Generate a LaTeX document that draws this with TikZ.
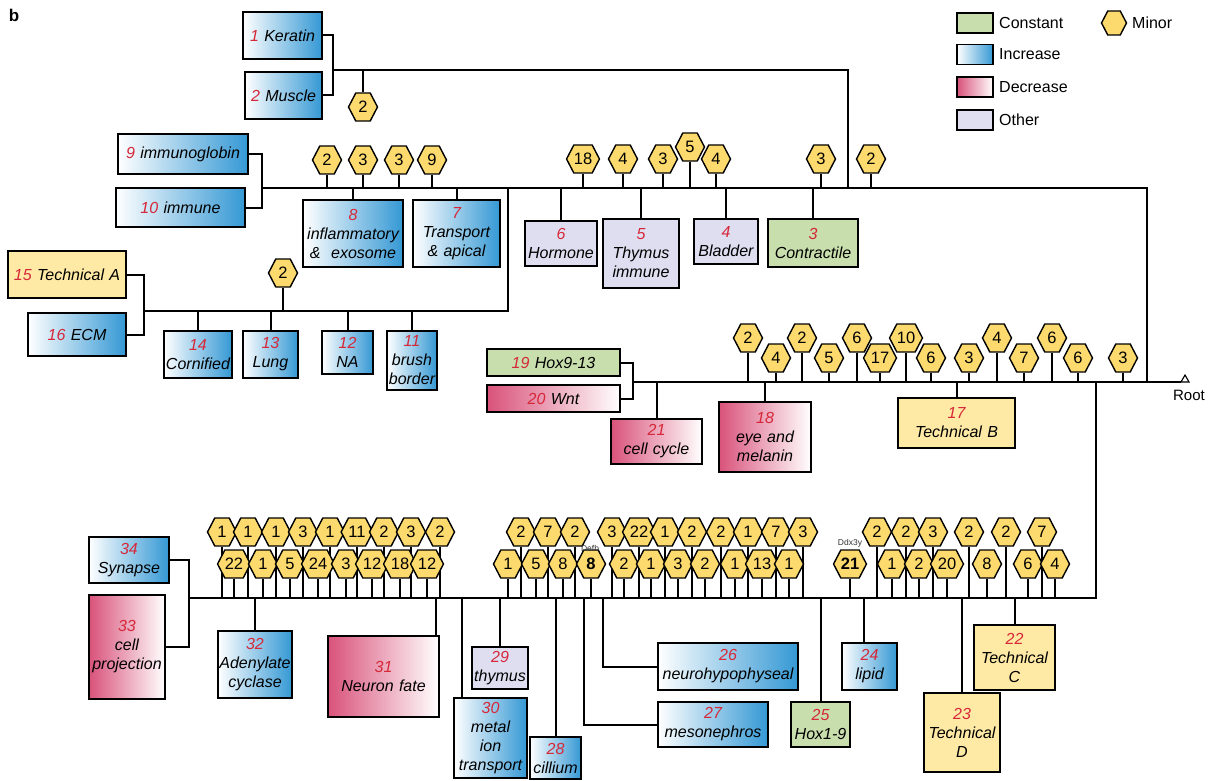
\documentclass[tikz,border=0pt]{standalone}
\usepackage{fontspec}
\setmainfont{Liberation Sans}
\usetikzlibrary{shapes.symbols,backgrounds,calc}
\definecolor{incblue}{RGB}{52,152,212}
\definecolor{decred}{RGB}{217,82,122}
\definecolor{constgreen}{RGB}{200,222,172}
\definecolor{otherpurple}{RGB}{222,222,240}
\definecolor{techyellow}{RGB}{254,233,165}
\definecolor{hexfill}{RGB}{253,218,110}
\definecolor{numred}{RGB}{214,40,57}
\newcommand\nr[1]{\textcolor{numred}{#1}}
\newcommand\mybox[7]{%
  \pgfmathsetmacro\bxw{#5-#3}\pgfmathsetmacro\bxh{#6-#4}%
  \pgfmathsetmacro\bxcx{(#3+#5)/2}\pgfmathsetmacro\bxcy{(#4+#6)/2}%
  \node[box,#2,text width=\bxw pt,minimum height=\bxh pt] (#1) at (\bxcx,\bxcy) {#7};}
\newcommand\hexon[5]{%
  \node[minor] (#1) at (#2,#3) {#4};
  \begin{pgfonlayer}{background}\draw[ln] (#1.south) -- (#1.south |- #5);\end{pgfonlayer}}
\begin{document}
\begin{tikzpicture}[x=1pt,y=-1pt,
  ln/.style={line width=2pt},
  box/.style={draw=black, line width=2.2pt, align=center, inner xsep=0pt, inner ysep=1pt, font=\fontsize{16}{19}\selectfont\itshape},
  inc/.style={left color=white, right color=incblue},
  dec/.style={left color=decred, right color=white},
  cst/.style={fill=constgreen},
  oth/.style={fill=otherpurple},
  tec/.style={fill=techyellow},
  minor/.style={signal, signal to=east and west, signal pointer angle=125, draw=black, line width=1.4pt, fill=hexfill, minimum width=29pt, minimum height=28pt, inner sep=0pt, font=\fontsize{16.5}{16.5}\selectfont},
  legbox/.style={draw=black, line width=1.7pt, minimum width=36pt, minimum height=20pt, inner sep=0pt},
  legtxt/.style={anchor=west, inner sep=0pt, font=\fontsize{16}{16}\selectfont},
  tiny/.style={font=\fontsize{8.5}{9}\selectfont, text=black!80, inner sep=0pt}
]
\useasboundingbox (0,0) rectangle (1208,781);
\node[font=\bfseries\fontsize{17}{17}\selectfont] (lblb) at (14,15) {b};

% ---------- boxes ----------
\mybox{ker}{inc}{243}{12}{322}{59}{\nr{1} Keratin}
\mybox{mus}{inc}{245}{72}{322}{119}{\nr{2} Muscle}
\mybox{img}{inc}{118}{134}{248}{174}{\nr{9} immunoglobin}
\mybox{imm}{inc}{116}{188}{245}{227}{\nr{10} immune}
\mybox{inf}{inc}{303}{200}{403}{267}{\nr{8}\\inflammatory\\\&\ \ exosome}
\mybox{tra}{inc}{413}{200}{500}{267}{\nr{7}\\Transport\\\& apical}
\mybox{hor}{oth}{525}{221}{597}{266}{\nr{6}\\Hormone}
\mybox{thy}{oth}{603}{219}{679}{288}{\nr{5}\\Thymus\\immune}
\mybox{bla}{oth}{694}{219}{758}{264}{\nr{4}\\Bladder}
\mybox{con}{cst}{768}{219}{858}{267}{\nr{3}\\Contractile}
\mybox{tca}{tec}{8}{251}{126}{298}{\nr{15} Technical A}
\mybox{ecm}{inc}{28}{313}{126}{356}{\nr{16} ECM}
\mybox{cor}{inc}{164}{331}{232}{378}{\nr{14}\\Cornified}
\mybox{lun}{inc}{243}{331}{298}{378}{\nr{13}\\Lung}
\mybox{na}{inc}{322}{331}{373}{374}{\nr{12}\\NA}
\mybox{bru}{inc}{387}{331}{437}{390}{\nr{11}\\brush\\border}
\mybox{hox}{cst}{487}{349}{620}{376}{\nr{19} Hox9-13}
\mybox{wnt}{dec}{487}{385}{620}{412}{\nr{20} Wnt}
\mybox{cc}{dec}{611}{419}{702}{464}{\nr{21}\\cell cycle}
\mybox{eye}{dec}{719}{402}{811}{472}{\nr{18}\\eye and\\melanin}
\mybox{tcb}{tec}{898}{398}{1015}{448}{\nr{17}\\Technical B}
\mybox{syn}{inc}{89}{537}{169}{583}{\nr{34}\\Synapse}
\mybox{cp}{dec}{89}{595}{165}{699}{\nr{33}\\cell\\projection}
\mybox{ade}{inc}{218}{631}{292}{698}{\nr{32}\\Adenylate\\cyclase}
\mybox{neu}{dec}{328}{636}{439}{717}{\nr{31}\\Neuron fate}
\mybox{met}{inc}{454}{698}{527}{778}{\nr{30}\\metal\\ion\\transport}
\mybox{thm}{oth}{472}{647}{528}{689}{\nr{29}\\thymus}
\mybox{cil}{inc}{530}{737}{581}{779}{\nr{28}\\cillium}
\mybox{mes}{inc}{658}{702}{768}{747}{\nr{27}\\mesonephros}
\mybox{neh}{inc}{658}{643}{798}{690}{\nr{26}\\neurohypophyseal}
\mybox{hx19}{cst}{791}{702}{850}{747}{\nr{25}\\Hox1-9}
\mybox{lip}{inc}{842}{643}{897}{690}{\nr{24}\\lipid}
\mybox{tcd}{tec}{924}{693}{1000}{772}{\nr{23}\\Technical\\D}
\mybox{tcc}{tec}{974}{625}{1055}{690}{\nr{22}\\Technical\\C}

% ---------- junction coordinates ----------
\coordinate (cKM) at (333,70);
\coordinate (tA) at (848,70);
\coordinate (tAj) at (848,188);
\coordinate (cT) at (262,188);
\coordinate (tR) at (1147,188);
\coordinate (rR) at (1147,382);
\coordinate (cTAr) at (508,188);
\coordinate (cTAb) at (508,311);
\coordinate (cTA) at (144,311);
\coordinate (cR) at (633,382);
\coordinate (rootpt) at (1181,382);
\coordinate (rB) at (1096,382);
\coordinate (bR) at (1096,598);
\coordinate (cB) at (189,598);
\coordinate (bNeu) at (436,598);
\coordinate (bMet) at (462,598);
\coordinate (bMes) at (584,598);
\coordinate (bNeh) at (603,598);
\coordinate (bLip) at (864,598);

% ---------- connectors ----------
\draw[ln] (ker.east) -| (cKM) |- (mus.east);
\draw[ln] (cKM) -- (tA) -- (tAj);
\draw[ln] (img.east) -| (cT) |- (imm.east);
\draw[ln] (cT) -- (tR) -- (rR);
\draw[ln] (cTAr) -- (cTAb) -- (cTA);
\draw[ln] (tca.east) -| (cTA) |- (ecm.east);
\draw[ln] (hox.east) -| (cR) |- (wnt.east);
\draw[ln] (cR) -- (rootpt);
\draw[ln] (rB) -- (bR) -- (cB);
\draw[ln] (syn.east) -| (cB) |- (cp.east);
\foreach \b in {inf,tra,hor,thy,bla,con} \draw[ln] (\b.north) -- (\b.north |- cT);
\foreach \b in {cor,lun,na,bru} \draw[ln] (\b.north) -- (\b.north |- cTA);
\foreach \b in {cc,eye,tcb} \draw[ln] (\b.north) -- (\b.north |- cR);
\foreach \b in {ade,thm,cil,hx19,tcd,tcc} \draw[ln] (\b.north) -- (\b.north |- cB);
\draw[ln] (bNeu) -- (bNeu |- neu.north);
\draw[ln] (bMet) -- (bMet |- met.north);
\draw[ln] (bLip) -- (bLip |- lip.north);
\draw[ln] (bMes) |- (mes.west);
\draw[ln] (bNeh) |- (neh.west);

% root
\draw[line width=1.1pt] (rootpt) -- ++(4,-7) -- ++(4,7) -- cycle;
\node[font=\fontsize{15}{15}\selectfont, inner sep=0pt] (roottxt) at (1189,395) {Root};

% ---------- minor hexagons ----------
\node[minor] (k1) at (363,107) {2};
\begin{pgfonlayer}{background}\draw[ln] (k1.north) -- (k1.north |- cKM);\end{pgfonlayer}

\hexon{t1}{327}{160}{2}{cT}
\hexon{t2}{363}{160}{3}{cT}
\hexon{t3}{399}{160}{3}{cT}
\hexon{t4}{432}{160}{9}{cT}
\hexon{t5}{583}{159}{18}{cT}
\hexon{t6}{623}{159}{4}{cT}
\hexon{t7}{663}{159}{3}{cT}
\hexon{t8}{690}{147}{5}{cT}
\hexon{t9}{716}{159}{4}{cT}
\hexon{t10}{821}{159}{3}{cT}
\hexon{t11}{871}{159}{2}{cT}

\hexon{a1}{283}{273}{2}{cTA}

\hexon{r1}{748}{338}{2}{cR}
\hexon{r2}{776}{358}{4}{cR}
\hexon{r3}{802}{338}{2}{cR}
\hexon{r4}{829}{358}{5}{cR}
\hexon{r5}{857}{338}{6}{cR}
\hexon{r6}{880}{358}{17}{cR}
\hexon{r7}{906}{338}{10}{cR}
\hexon{r8}{931}{358}{6}{cR}
\hexon{r9}{969}{358}{3}{cR}
\hexon{r10}{997}{338}{4}{cR}
\hexon{r11}{1024}{358}{7}{cR}
\hexon{r12}{1052}{338}{6}{cR}
\hexon{r13}{1078}{358}{6}{cR}
\hexon{r14}{1123}{358}{3}{cR}

% bottom tree, upper row
\hexon{b1}{222}{532}{1}{cB}
\hexon{b2}{248}{532}{1}{cB}
\hexon{b3}{276}{532}{1}{cB}
\hexon{b4}{303}{532}{3}{cB}
\hexon{b5}{330}{532}{1}{cB}
\hexon{b6}{357}{532}{11}{cB}
\hexon{b7}{384}{532}{2}{cB}
\hexon{b8}{411}{532}{3}{cB}
\hexon{b9}{440}{532}{2}{cB}
\hexon{b10}{521}{532}{2}{cB}
\hexon{b11}{548}{532}{7}{cB}
\hexon{b12}{575}{532}{2}{cB}
\hexon{b13}{612}{532}{3}{cB}
\hexon{b14}{639}{532}{22}{cB}
\hexon{b15}{665}{532}{1}{cB}
\hexon{b16}{692}{532}{2}{cB}
\hexon{b17}{721}{532}{2}{cB}
\hexon{b18}{748}{532}{1}{cB}
\hexon{b19}{776}{532}{7}{cB}
\hexon{b20}{803}{532}{3}{cB}
\hexon{b21}{877}{532}{2}{cB}
\hexon{b22}{906}{532}{2}{cB}
\hexon{b23}{933}{532}{3}{cB}
\hexon{b24}{969}{532}{2}{cB}
\hexon{b25}{1006}{532}{2}{cB}
\hexon{b26}{1042}{532}{7}{cB}
% bottom tree, lower row
\hexon{c1}{234}{564}{22}{cB}
\hexon{c2}{263}{564}{1}{cB}
\hexon{c3}{290}{564}{5}{cB}
\hexon{c4}{318}{564}{24}{cB}
\hexon{c5}{346}{564}{3}{cB}
\hexon{c6}{372}{564}{12}{cB}
\hexon{c7}{400}{564}{18}{cB}
\hexon{c8}{427}{564}{12}{cB}
\hexon{c9}{508}{564}{1}{cB}
\hexon{c10}{536}{564}{5}{cB}
\hexon{c11}{563}{564}{8}{cB}
\hexon{c12}{591}{564}{\textbf{8}}{cB}
\hexon{c13}{624}{564}{2}{cB}
\hexon{c14}{651}{564}{1}{cB}
\hexon{c15}{678}{564}{3}{cB}
\hexon{c16}{705}{564}{2}{cB}
\hexon{c17}{735}{564}{1}{cB}
\hexon{c18}{762}{564}{13}{cB}
\hexon{c19}{789}{564}{1}{cB}
\hexon{c20}{850}{564}{\textbf{21}}{cB}
\hexon{c21}{892}{564}{1}{cB}
\hexon{c22}{919}{564}{2}{cB}
\hexon{c23}{947}{564}{20}{cB}
\hexon{c24}{987}{564}{8}{cB}
\hexon{c25}{1028}{564}{6}{cB}
\hexon{c26}{1055}{564}{4}{cB}
\node[tiny] (defb) at (590,548) {Defb};
\node[tiny] (ddx) at (850,543) {Ddx3y};

% ---------- legend ----------
\node[legbox,cst] (lg1) at (975,23) {};
\node[legbox,inc] (lg2) at (975,54.5) {};
\node[legbox,dec] (lg3) at (975,87) {};
\node[legbox,oth] (lg4) at (975,120) {};
\node[legtxt] (lt1) at (999,23) {Constant};
\node[legtxt] (lt2) at (999,54.5) {Increase};
\node[legtxt] (lt3) at (999,87) {Decrease};
\node[legtxt] (lt4) at (999,120) {Other};
\node[minor, minimum width=25pt, minimum height=24pt] (lgm) at (1114,23) {};
\node[legtxt] (ltm) at (1132,23) {Minor};
\end{tikzpicture}
\end{document}
